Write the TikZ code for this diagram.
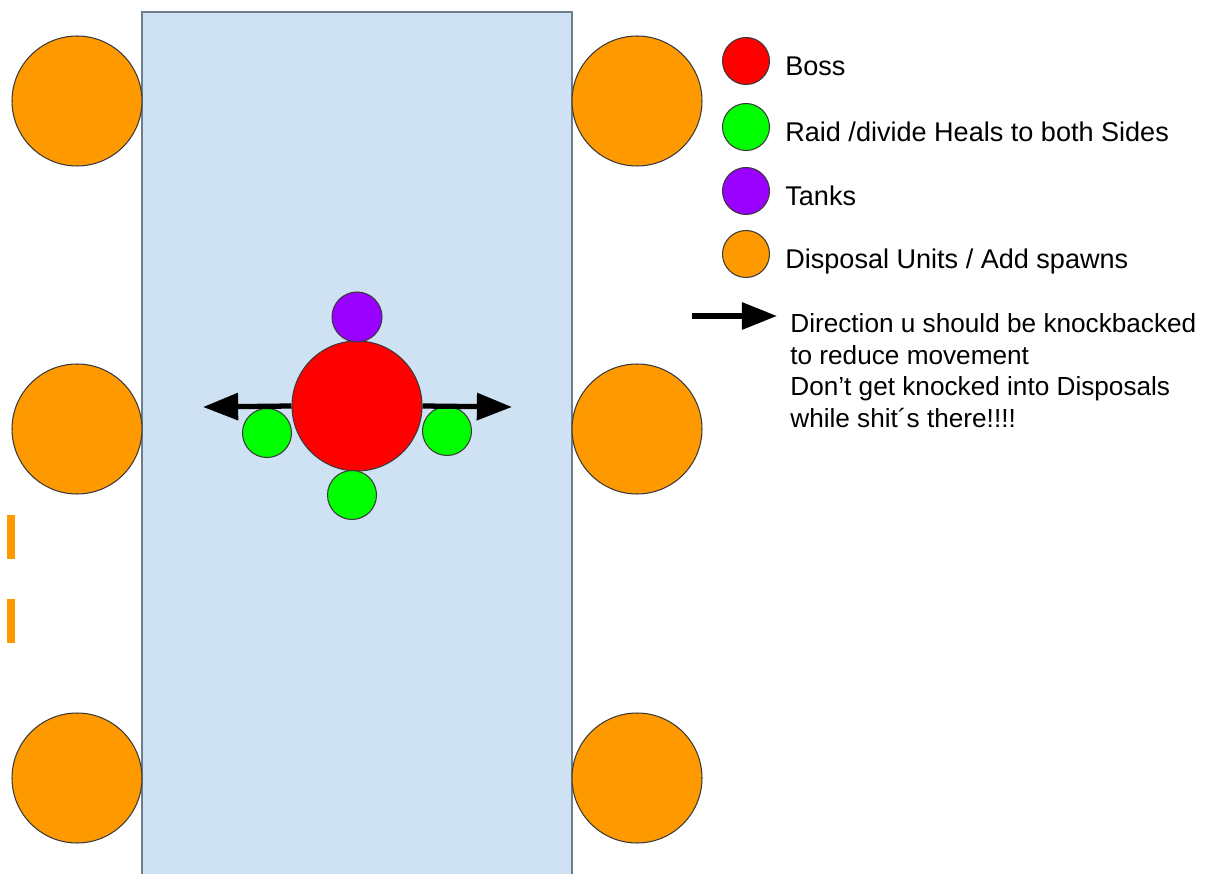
\documentclass[tikz,border=0pt]{standalone}
\usepackage{fontspec}
\setmainfont{Liberation Sans}
\usetikzlibrary{arrows.meta,positioning}
\definecolor{arena}{HTML}{CFE2F3}
\definecolor{wallgray}{HTML}{6D7D8C}
\definecolor{spawnorange}{HTML}{FF9900}
\definecolor{healgreen}{HTML}{00FF00}
\definecolor{bossred}{HTML}{FF0000}
\definecolor{tankpurple}{HTML}{9900FF}
\definecolor{rim}{HTML}{3A3A3A}
\newcommand{\spawn}[3]{\node[dot,fill=spawnorange,minimum size=2.6cm] (#1) at (#2,#3) {};}

\begin{document}
\begin{tikzpicture}[x=0.02cm,y=-0.02cm,
  dot/.style={circle,draw=rim,line width=0.6pt,inner sep=0pt},
  push/.style={line width=3pt,-{Triangle[length=20pt,width=15pt]}},
  lbl/.style={anchor=base west,inner sep=0pt,font=\fontsize{15.4}{18.1}\selectfont}]
\useasboundingbox (0,0) rectangle (1227,874);
\fill[arena] (142,12) rectangle (572,880);
\draw[wallgray,line width=0.8pt] (142,880) -- (142,12) -- (572,12) -- (572,880);
% disposal units on both walls
\spawn{ltop}{77}{101}\spawn{lmid}{77}{429}\spawn{lbot}{77}{778}
\spawn{rtop}{637}{101}\spawn{rmid}{637}{429}\spawn{rbot}{637}{778}
\draw[spawnorange,line width=4.5pt,dash pattern=on 0.88cm off 0.8cm] (11,515) -- (11,643);
% boss group
\node[dot,fill=bossred,minimum size=2.6cm] (boss) at (357,406) {};
\node[dot,fill=tankpurple,minimum size=1cm] (tank) at (357,317) {};
\node[dot,fill=healgreen,minimum size=0.98cm] (healS) at (352,495) {};
\node[dot,fill=healgreen,minimum size=0.98cm] (healW) at (267,433) {};
\node[dot,fill=healgreen,minimum size=0.98cm] (healE) at (447,431) {};
\coordinate (kbW) at (203,407);\coordinate (kbE) at (512,407);
\draw[push] (boss.west) -- (kbW);\draw[push] (boss.east) -- (kbE);
% legend
\node[dot,fill=bossred,minimum size=0.94cm] (lgboss) at (746,61) {};
\node[dot,fill=healgreen,minimum size=0.94cm] (lgheal) at (746,127) {};
\node[dot,fill=tankpurple,minimum size=0.94cm] (lgtank) at (746,191) {};
\node[dot,fill=spawnorange,minimum size=0.94cm] (lgspawn) at (746,254) {};
\node[lbl] (tboss) at (785,76) {Boss};
\node[lbl] (theal) at (785,142) {Raid /divide Heals to both Sides};
\node[lbl] (ttank) at (785,206) {Tanks};
\node[lbl] (tspawn) at (785,269) {Disposal Units / Add spawns};
\coordinate (kbfrom) at (692,316);\coordinate (kbto) at (777,316);
\draw[push] (kbfrom) -- (kbto);
\node[anchor=north west,align=left,inner sep=0pt,font=\fontsize{14.9}{18.1}\selectfont] (note) at (790,313)
  {Direction u should be knockbacked\\to reduce movement\\Don’t get knocked into Disposals\\while shit´s there!!!!};
\end{tikzpicture}
\end{document}
